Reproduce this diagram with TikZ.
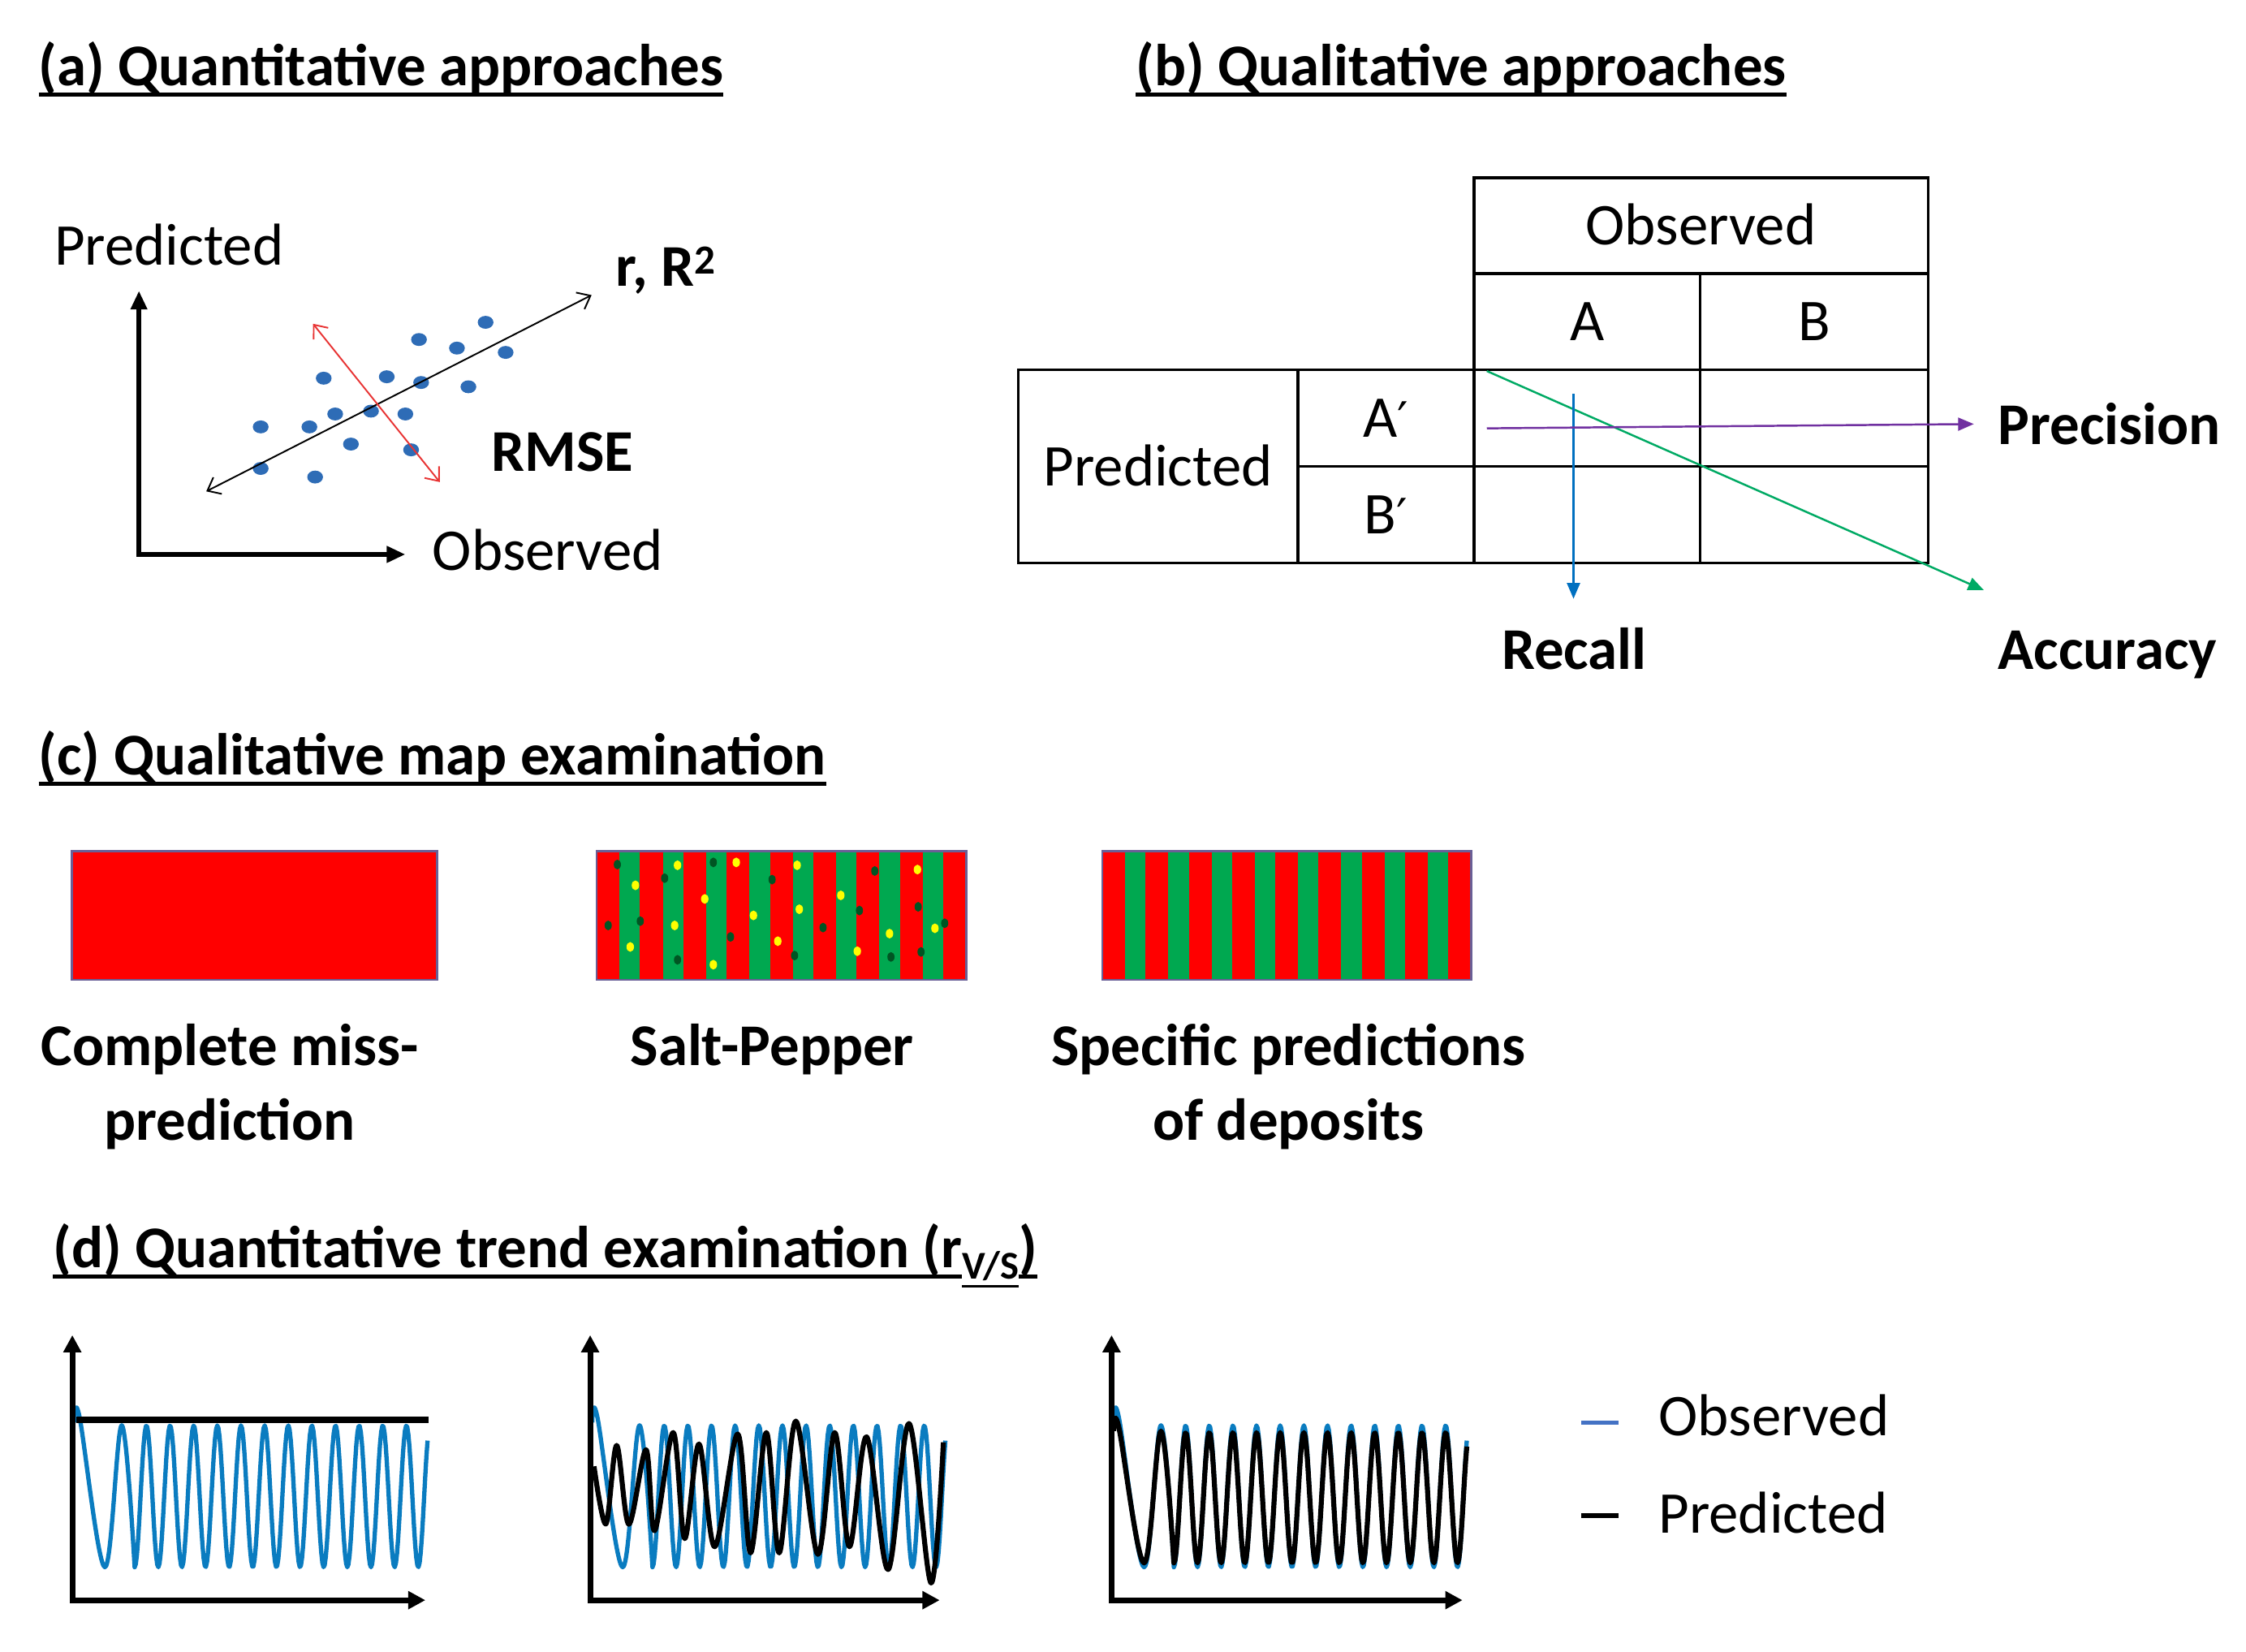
\documentclass[tikz,border=0pt]{standalone}
\usepackage{fontspec}
\setmainfont{Carlito}
\newfontfamily\primefont{DejaVu Sans}
\usetikzlibrary{arrows.meta,calc}
\definecolor{dotblue}{RGB}{46,108,182}
\definecolor{rmsered}{RGB}{232,52,52}
\definecolor{accgreen}{RGB}{0,170,100}
\definecolor{recblue}{RGB}{0,112,192}
\definecolor{precpurple}{RGB}{112,48,160}
\definecolor{mapred}{RGB}{255,0,0}
\definecolor{mapgreen}{RGB}{0,168,80}
\definecolor{mapborder}{RGB}{105,95,150}
\definecolor{dotyellow}{RGB}{255,255,0}
\definecolor{dotdark}{RGB}{0,85,35}
\definecolor{obsblue}{RGB}{10,124,192}
\definecolor{legblue}{RGB}{68,114,196}
\newcommand{\primemark}{{\primefont\fontsize{34}{40}\selectfont ′}}
\begin{document}
\begin{tikzpicture}[x=1pt,y=-1pt,
 txt/.style={inner sep=0pt,outer sep=0pt,font=\fontsize{41.3}{49}\selectfont},
 btxt/.style={inner sep=0pt,outer sep=0pt,font=\fontsize{41.3}{49}\selectfont\bfseries},
 uline/.style={line width=2.6pt},
 aaxis/.style={line width=3.5pt,{Triangle[length=13pt,width=11pt]}-{Triangle[length=13pt,width=11pt]}},
 daxis/.style={line width=4pt,{Triangle[length=12pt,width=12pt]}-{Triangle[length=12pt,width=12pt]}},
 barb/.style={line width=1.1pt,{Straight Barb[length=8pt,width=13pt]}-{Straight Barb[length=8pt,width=13pt]}},
 cell/.style={draw,line width=2pt,inner sep=0pt,outer sep=0pt,text height=27pt,text depth=0pt,font=\fontsize{41.3}{49}\selectfont},
 tarrow/.style={line width=1.4pt,-{Triangle[length=11pt,width=9pt]}},
 mapbox/.style={draw=mapborder,line width=1.6pt,inner sep=0pt,outer sep=0pt,minimum height=90pt},
 obsline/.style={draw=obsblue,line width=3pt,line join=round},
 predline/.style={draw=black,line width=3.5pt,line join=round}
]
\fill[white] (0,0) rectangle (1568,1153);
\path[use as bounding box] (0,0) rectangle (1568,1153);

%% (a)
\node[btxt,anchor=base west] (ta) at (27,60) {(a) Quantitative approaches};
\draw[uline] ($(ta.base west)+(0,6)$) -- ($(ta.base east)+(0,6)$);
\coordinate (aO) at (97,387);
\coordinate (aY) at (97,203);
\coordinate (aX) at (283,387);
\draw[aaxis] (aY) -- (aO) -- (aX);
\node[txt,anchor=base west] (aPred) at (38,185) {Predicted};
\node[txt,anchor=base west] (aObs) at (302,398) {Observed};
\node[btxt,anchor=base west] (aR) at (430,200) {r, R\textsuperscript{2}};
\node[btxt,anchor=base west] (aRMSE) at (343,329) {RMSE};
\foreach \a/\b in {339/225,292.5/237,319/243,353/246,226/264,270/263,294/267,327/270,234/289,259/287,283/289,182/298,216/298,245/310,287/314,182/327,220/333}
  \fill[dotblue] (\a,\b) ellipse [x radius=5.5pt,y radius=4.5pt];
\coordinate (rl1) at (144,343);
\coordinate (rl2) at (413,206);
\draw[barb] (rl1) -- (rl2);
\coordinate (rm1) at (218.5,226);
\coordinate (rm2) at (307,336.5);
\draw[barb,rmsered] (rm1) -- (rm2);

%% (b)
\node[btxt,anchor=base west] (tb) at (793,60) {(b) Qualitative approaches};
\draw[uline] ($(tb.base west)+(0,6)$) -- ($(tb.base east)+(0,6)$);
\node[cell,minimum width=317pt,minimum height=67pt] (obs) at (1187.5,157.5) {Observed};
\node[cell,minimum width=158pt,minimum height=67pt] (colA) at (1108,224.5) {A};
\node[cell,minimum width=159pt,minimum height=67pt] (colB) at (1266.5,224.5) {B};
\node[cell,minimum width=195pt,minimum height=135pt] (pred) at (808.5,325.5) {Predicted};
\node[cell,minimum width=123pt,minimum height=67.5pt] (rowA) at (967.5,291.75) {A\primemark};
\node[cell,minimum width=123pt,minimum height=67.5pt] (rowB) at (967.5,359.25) {B\primemark};
\node[cell,minimum width=158pt,minimum height=67.5pt] (c11) at (1108,291.75) {};
\node[cell,minimum width=159pt,minimum height=67.5pt] (c12) at (1266.5,291.75) {};
\node[cell,minimum width=158pt,minimum height=67.5pt] (c21) at (1108,359.25) {};
\node[cell,minimum width=159pt,minimum height=67.5pt] (c22) at (1266.5,359.25) {};
\node[btxt,anchor=base west] (lprec) at (1395,310) {Precision};
\node[btxt,anchor=base] (lrec) at (1099,467) {Recall};
\node[btxt,anchor=base west] (lacc) at (1395,467) {Accuracy};
\coordinate (accS) at (1038,259);
\coordinate (accE) at (1385,412);
\coordinate (recS) at (1098.5,275);
\coordinate (recE) at (1098.5,418);
\coordinate (preS) at (1038,299);
\coordinate (preE) at (1378,296);
\draw[tarrow,accgreen] (accS) -- (accE);
\draw[tarrow,recblue] (recS) -- (recE);
\draw[tarrow,precpurple] (preS) -- (preE);

%% (c)
\node[btxt,anchor=base west] (tc) at (27,541) {(c) Qualitative map examination};
\draw[uline] ($(tc.base west)+(0,6)$) -- ($(tc.base east)+(0,6)$);
\node[mapbox,fill=mapred,minimum width=255pt] (m1) at (177.5,639) {};
\fill[mapred] (416.5,594) rectangle (674.5,684);
\foreach \k in {0,...,7} \fill[mapgreen] (432.45+30.25*\k,594) rectangle ++(14.3,90);
\foreach \a/\b in {473/604,514/602,556.5/604,443.6/618,492/627.5,587/625,526/639,558/634.7,471/646,640.5/607,652.7/648,621/651.7,440/661,543/657,598.5/664,498/673.4}
  \fill[dotyellow] (\a,\b) ellipse [x radius=2.6pt,y radius=3.4pt];
\foreach \a/\b in {431/603.5,498/602,464/613,539/614,424.6/646,447/643,510/654,574.6/647.5,600/635.6,610.7/608,641/633,659.5/644.5,473/670,554.7/667,622/668,643/664.5}
  \fill[dotdark] (\a,\b) ellipse [x radius=2.5pt,y radius=3.4pt];
\node[mapbox,minimum width=258pt] (m2) at (545.5,639) {};
\fill[mapred] (769.5,594) rectangle (1027,684);
\foreach \k in {0,...,7} \fill[mapgreen] (785.4+30.2*\k,594) rectangle ++(14.3,90);
\node[mapbox,minimum width=257.5pt] (m3) at (898.25,639) {};
\node[btxt,anchor=base] (l1a) at (160.5,744) {Complete miss-};
\node[btxt,anchor=base] (l1b) at (160.5,796) {prediction};
\node[btxt,anchor=base] (l2) at (539,744) {Salt-Pepper};
\node[btxt,anchor=base] (l3a) at (899.5,744) {Specific predictions};
\node[btxt,anchor=base] (l3b) at (899.5,796) {of deposits};

%% (d)
\node[btxt,anchor=base west] (td) at (37,885) {(d) Quantitative trend examination (r};
\node[anchor=base west,inner sep=0pt,outer sep=0pt,font=\fontsize{27.5}{30}\selectfont\bfseries] (tdsub) at ($(td.base east)+(0,8)$) {V/S};
\node[btxt,anchor=base west] (tdend) at ($(tdsub.base east)+(0,-8)$) {)};
\draw[uline] ($(td.base west)+(0,6)$) -- ($(td.base east)+(0,6)$);
\draw[line width=2pt] ($(tdsub.base west)+(0,5)$) -- ($(tdsub.base east)+(0,5)$);
\draw[uline] ($(tdend.base west)+(0,6)$) -- ($(tdend.base east)+(0,6)$);

% plot 1
\coordinate (p1o) at (50.5,1117);
\coordinate (p1y) at (50.5,932);
\coordinate (p1x) at (297,1117);
\begin{scope}[shift={(50.5,0)}]
\draw[obsline] plot[smooth,tension=0.6] coordinates {(1.5,993) (5,989) (22.7,1094) (34.5,995) (43.5,1094)} -- plot[domain=43.5:248,samples=260] (\x,{1044.5+49.5*cos(21.81818*(\x-43.5))});
\end{scope}
\draw[line width=4.5pt] (53,991) -- (299,991);
\draw[daxis] (p1y) -- (p1o) -- (p1x);

% plot 2
\coordinate (p2o) at (412,1117);
\coordinate (p2y) at (412,932);
\coordinate (p2x) at (656,1117);
\begin{scope}[shift={(412,0)}]
\draw[obsline] plot[smooth,tension=0.6] coordinates {(1.5,993) (5,989) (22.7,1094) (34.5,995) (43.5,1094)} -- plot[domain=43.5:248,samples=260] (\x,{1044.5+49.5*cos(21.81818*(\x-43.5))});
\end{scope}
\draw[predline] plot[smooth,tension=0.55] coordinates {(414.7,1023.6) (423,1063.8) (430.5,1009) (439,1064) (451,1012) (457,1068.5) (470,1000) (478,1074) (488,1008) (499,1079.7) (515,1001) (524,1084) (535,1000) (544,1084) (555.6,992) (571,1085) (582.7,1000) (593,1079.7) (605,1003) (620,1095.6) (634.6,993.7) (650,1105) (658.6,1006.8)};
\draw[daxis] (p2y) -- (p2o) -- (p2x);

% plot 3
\coordinate (p3o) at (776,1117);
\coordinate (p3y) at (776,932);
\coordinate (p3x) at (1021,1117);
\begin{scope}[shift={(776,0)}]
\draw[obsline] plot[smooth,tension=0.6] coordinates {(1.5,993) (5,989) (22.7,1094) (34.5,995) (43.5,1094)} -- plot[domain=43.5:248,samples=260] (\x,{1044.5+49.5*cos(21.81818*(\x-43.5))});
\draw[predline] plot[smooth,tension=0.6] coordinates {(1.5,999) (5,996) (22.7,1091) (34.5,999) (43.5,1091)} -- plot[domain=43.5:248,samples=260] (\x,{1045.5+45.5*cos(21.81818*(\x-43.5))});
\end{scope}
\draw[daxis] (p3y) -- (p3o) -- (p3x);

% legend
\coordinate (lg1a) at (1104,993);
\coordinate (lg1b) at (1130,993);
\coordinate (lg2a) at (1104,1058);
\coordinate (lg2b) at (1130,1058);
\draw[legblue,line width=3pt] (lg1a) -- (lg1b);
\draw[black,line width=3pt] (lg2a) -- (lg2b);
\node[txt,anchor=base west] (legObs) at (1158,1002) {Observed};
\node[txt,anchor=base west] (legPred) at (1158,1070) {Predicted};
\end{tikzpicture}
\end{document}
